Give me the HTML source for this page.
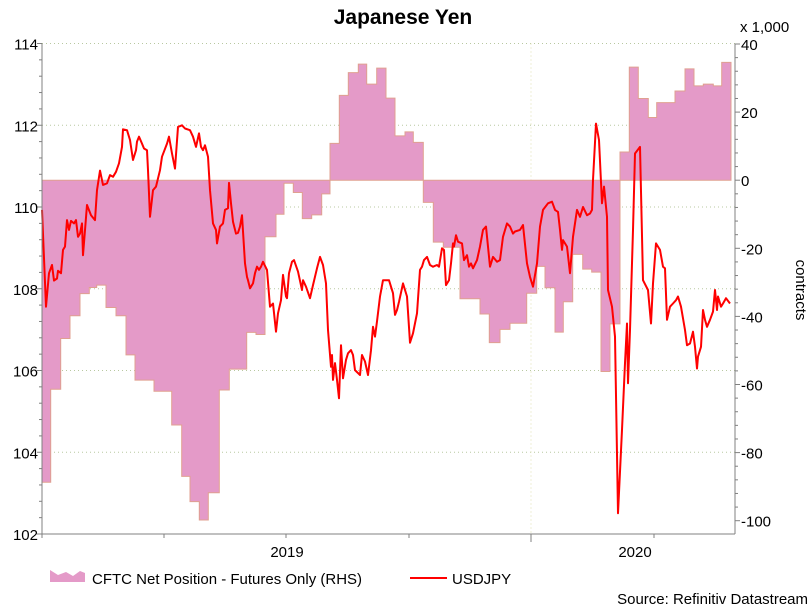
<!DOCTYPE html>
<html><head><meta charset="utf-8">
<style>
html,body{margin:0;padding:0;background:#fff;}
body{width:812px;height:607px;overflow:hidden;font-family:"Liberation Sans",Arial,sans-serif;}
svg text{font-family:"Liberation Sans",Arial,sans-serif;}
</style></head>
<body>
<svg id="chart" width="812" height="607" xmlns="http://www.w3.org/2000/svg">
  <text x="403" y="24" text-anchor="middle" font-size="21" font-weight="bold" fill="#000">Japanese Yen</text>
  <text x="740" y="32" font-size="15" fill="#000">x 1,000</text>
  <text transform="translate(796,290) rotate(90)" text-anchor="middle" font-size="15" fill="#000">contracts</text>
  <g id="grid"></g>
  <g id="area"></g>
  <g id="line"></g>
  <g id="axes"></g>
  <g>
    <g>
      <path d="M50,582 L50,570 L58,575 L66,572 L73,576 L80,571 L85,573 L85,582 Z" fill="#e49ac8"/>
      <text x="92" y="584" font-size="15" fill="#000">CFTC Net Position - Futures Only (RHS)</text>
    </g>
    <g>
      <line x1="410" y1="578" x2="447" y2="578" stroke="#ff0000" stroke-width="2"/>
      <text x="452" y="584" font-size="15" fill="#000">USDJPY</text>
    </g>
  </g>
  <text x="808" y="604" text-anchor="end" font-size="15" fill="#000">Source: Refinitiv Datastream</text>
</svg>
<script>
// time unit t: 0 = start of 2019, 489 = start of 2020 (chart units)
const xTickT = [0, 122, 244, 367, 489, 612];
const yearLabels = ['2019', '2020'];
const yearLabelT = [245, 593];
const leftTicks = [102, 104, 106, 108, 110, 112, 114];
const rightTicks = [-100, -80, -60, -40, -20, 0, 20, 40];

const cftcT = [0,8.7,18.7,28,38,47.3,54.7,64,74,84,93,112,129.7,139.7,148,157.3,166.3,177.3,187.3,204.7,214,223,234,242,251.3,260.3,269.7,279.7,288,297.3,306.3,316.3,324.7,334.7,344,353,363,371.3,381.3,391.3,401.3,418,438,447.3,458,468,484.7,494.7,503,513,521.3,530.7,540.7,549.7,559,568,578,587.3,596.3,606.3,614.7,633,643,652,661.3,671.3,679.7];
const cftcEndT = 689;
const cftcVal = [-88.7,-61.4,-46.5,-39.8,-33.3,-31.5,-30.8,-37.4,-39.8,-51.3,-58.7,-62,-71.9,-87,-94.4,-99.8,-91.8,-61.6,-55.5,-44.7,-45.3,-16.6,-10,-0.9,-3.6,-11.3,-10.2,-4,10.8,24.9,31.6,34.1,28.2,32.9,24.1,13,14.2,11.1,-6.5,-18.2,-19.7,-34.8,-39.3,-47.7,-43.8,-42,-33.2,-25.3,-31.6,-44.6,-35.7,-21.8,-26.1,-27,-56.2,-42.2,8.3,33.2,24,18.4,22.8,26.2,32.7,27.7,28.2,27.7,34.6];

const fxT = [0,4,7,10,12,15,16,19,21,23,25,27,29,32,34,36,38,40,41,45,49,53,55,58,61,65,68,71,74,77,80,81,85,88,91,94,95,97,100,102,105,106,108,111,114,118,120,125,127,130,133,136,140,143,148,151,154,157,159,161,163,166,168,171,174,175,178,181,183,186,187,189,191,194,196,198,200,203,205,206,208,211,213,215,217,219,221,225,228,231,234,236,239,241,244,245,247,250,252,256,260,261,264,268,271,275,278,281,284,286,289,290,291,293,295,297,299,301,304,306,309,311,313,318,320,323,326,329,331,333,335,338,341,345,347,351,353,355,357,
361,365,368,371,375,378,380,382,385,388,391,395,397,400,402,404,407,409,411,412,414,416,420,422,425,427,429,431,435,438,441,444,446,448,451,455,458,461,465,468,471,473,478,481,485,488,491,495,498,501,506,510,513,516,518,520,521,525,528,531,535,538,541,545,548,550,551,554,557,560,562,565,566,570,573,576,580,583,585,586,588,591,593,598,601,606,609,611,614,618,621,623,625,628,631,634,636,639,643,645,648,651,653,655,656,659,661,663,665,668,671,673,675,676,679,681,684,688];
const fxVal = [109.93,107.56,108.38,108.58,108.2,108.25,108.44,108.38,108.95,109.03,109.68,109.44,109.66,109.6,109.68,109.27,109.35,109.6,108.82,110.05,109.8,109.68,110.41,110.89,110.54,110.58,110.78,110.74,110.86,111.07,111.47,111.9,111.88,111.64,111.15,111.39,111.6,111.72,111.55,111.43,111.39,110.9,109.76,110.41,110.5,110.9,111.23,111.55,111.72,111.31,110.94,111.96,112.0,111.92,111.88,111.72,111.47,111.8,111.47,111.39,111.51,111.23,110.41,109.6,109.44,109.11,109.52,109.6,109.93,109.97,110.59,110.09,109.64,109.35,109.37,109.52,109.8,108.62,108.29,108.21,108.01,108.13,108.38,108.54,108.46,108.54,108.66,108.46,107.56,107.64,106.95,107.4,107.72,108.34,107.81,107.77,108.38,108.66,108.7,108.42,107.97,108.21,108.05,107.77,108.09,108.5,108.78,108.58,108.13,106.99,106.09,106.38,105.77,106.18,105.77,105.32,106.62,105.81,106.26,106.42,106.5,106.38,106.01,105.89,106.38,106.22,105.89,106.5,107.07,106.83,107.2,107.81,108.21,108.21,108.21,107.89,107.36,107.48,107.68,
108.13,107.81,106.68,106.91,107.4,108.46,108.54,108.7,108.78,108.58,108.54,108.58,108.54,108.99,108.95,108.09,108.21,108.62,109.11,109.03,109.31,109.15,109.11,108.7,108.82,108.54,108.62,108.5,108.7,109.03,109.44,109.52,109.03,108.54,108.78,108.66,108.7,109.27,109.6,109.52,109.35,109.4,109.44,109.56,108.62,108.29,108.05,108.62,109.52,109.93,110.09,110.13,109.93,109.88,109.44,108.95,109.19,109.03,108.38,109.27,109.93,109.76,110.0,109.8,109.84,109.93,110.66,112.04,111.64,110.09,110.5,109.76,107.97,107.56,106.83,102.51,104.55,106.18,107.15,105.69,106.99,109.44,111.31,111.47,108.21,107.97,107.15,108.13,109.11,108.95,108.54,108.5,107.24,107.56,107.64,107.72,107.81,107.56,106.99,106.62,106.66,106.95,106.58,106.05,106.34,106.58,107.48,107.24,107.07,107.24,107.44,107.97,107.48,107.81,107.56,107.64,107.77,107.64];

const NS = 'http://www.w3.org/2000/svg';
const X0 = 42, X1 = 735, Y0 = 43.5, Y1 = 534;
const xScale = t => X0 + t;
const yL = v => Y0 + (114 - v) * (Y1 - Y0) / 12;
const yR = v => 44 + (40 - v) * 3.405;

function mk(tag, parent, attrs) {
  const e = document.createElementNS(NS, tag);
  for (const k in attrs) e.setAttribute(k, attrs[k]);
  parent.appendChild(e);
  return e;
}
const grid = document.getElementById('grid');
const area = document.getElementById('area');
const line = document.getElementById('line');
const axes = document.getElementById('axes');

leftTicks.forEach(v => {
  if (v === 102) return;
  const g = mk('line', grid, {x1: X0, x2: X1, y1: yL(v), y2: yL(v), stroke: '#b8c8a0', 'stroke-width': 1, 'stroke-dasharray': '1,3'});
  
  
});
const vg = mk('line', grid, {x1: xScale(xTickT[4]), x2: xScale(xTickT[4]), y1: Y0, y2: Y1, stroke: '#e0e0b0', 'stroke-width': 1, 'stroke-dasharray': '1,3'});



let d = 'M' + xScale(cftcT[0]) + ',' + yR(0);
for (let i = 0; i < cftcT.length; i++) {
  const x0 = xScale(cftcT[i]);
  const x1 = xScale(i + 1 < cftcT.length ? cftcT[i + 1] : cftcEndT);
  d += ' L' + x0 + ',' + yR(cftcVal[i]) + ' L' + x1 + ',' + yR(cftcVal[i]);
}
d += ' L' + xScale(cftcEndT) + ',' + yR(0) + ' Z';
const ap = mk('path', area, {d: d, fill: '#e49ac8', stroke: '#e0a090', 'stroke-width': 1});



const pts = fxT.map((t, i) => xScale(t).toFixed(1) + ',' + yL(fxVal[i]).toFixed(1)).join(' ');
const pl = mk('polyline', line, {points: pts, fill: 'none', stroke: '#ff0000', 'stroke-width': 2, 'stroke-linejoin': 'round'});



const ac = '#808080';
mk('line', axes, {x1: X0, x2: X0, y1: Y0, y2: Y1, stroke: ac});
mk('line', axes, {x1: X1, x2: X1, y1: Y0, y2: Y1, stroke: ac});
mk('line', axes, {x1: X0, x2: X1, y1: Y1, y2: Y1, stroke: ac});
for (let v = 102; v <= 114.001; v += 0.4) {
  const major = Math.abs(v - Math.round(v)) < 0.01 && Math.round(v) % 2 === 0;
  mk('line', axes, {x1: X0 - (major ? 5 : 3), x2: X0, y1: yL(v), y2: yL(v), stroke: ac});
}
leftTicks.forEach(v => {
  const t = mk('text', axes, {x: 38, y: yL(v) + 6, 'text-anchor': 'end', 'font-size': 15, fill: '#000'});
  t.textContent = v;
  
  
});
for (let v = -100; v <= 40; v += 4) {
  const major = v % 20 === 0;
  mk('line', axes, {x1: X1, x2: X1 + (major ? 5 : 3), y1: yR(v), y2: yR(v), stroke: ac});
}
rightTicks.forEach(v => {
  const t = mk('text', axes, {x: 741, y: yR(v) + 6, 'font-size': 15, fill: '#000'});
  t.textContent = v;
  
  
});
xTickT.forEach((t, i) => {
  mk('line', axes, {x1: xScale(t), x2: xScale(t), y1: Y1, y2: Y1 + (i === 4 ? 8 : 4), stroke: ac});
});
yearLabels.forEach((s, i) => {
  const t = mk('text', axes, {x: xScale(yearLabelT[i]), y: 557, 'text-anchor': 'middle', 'font-size': 15, fill: '#000'});
  t.textContent = s;
  
  
});
</script>
</body></html>
